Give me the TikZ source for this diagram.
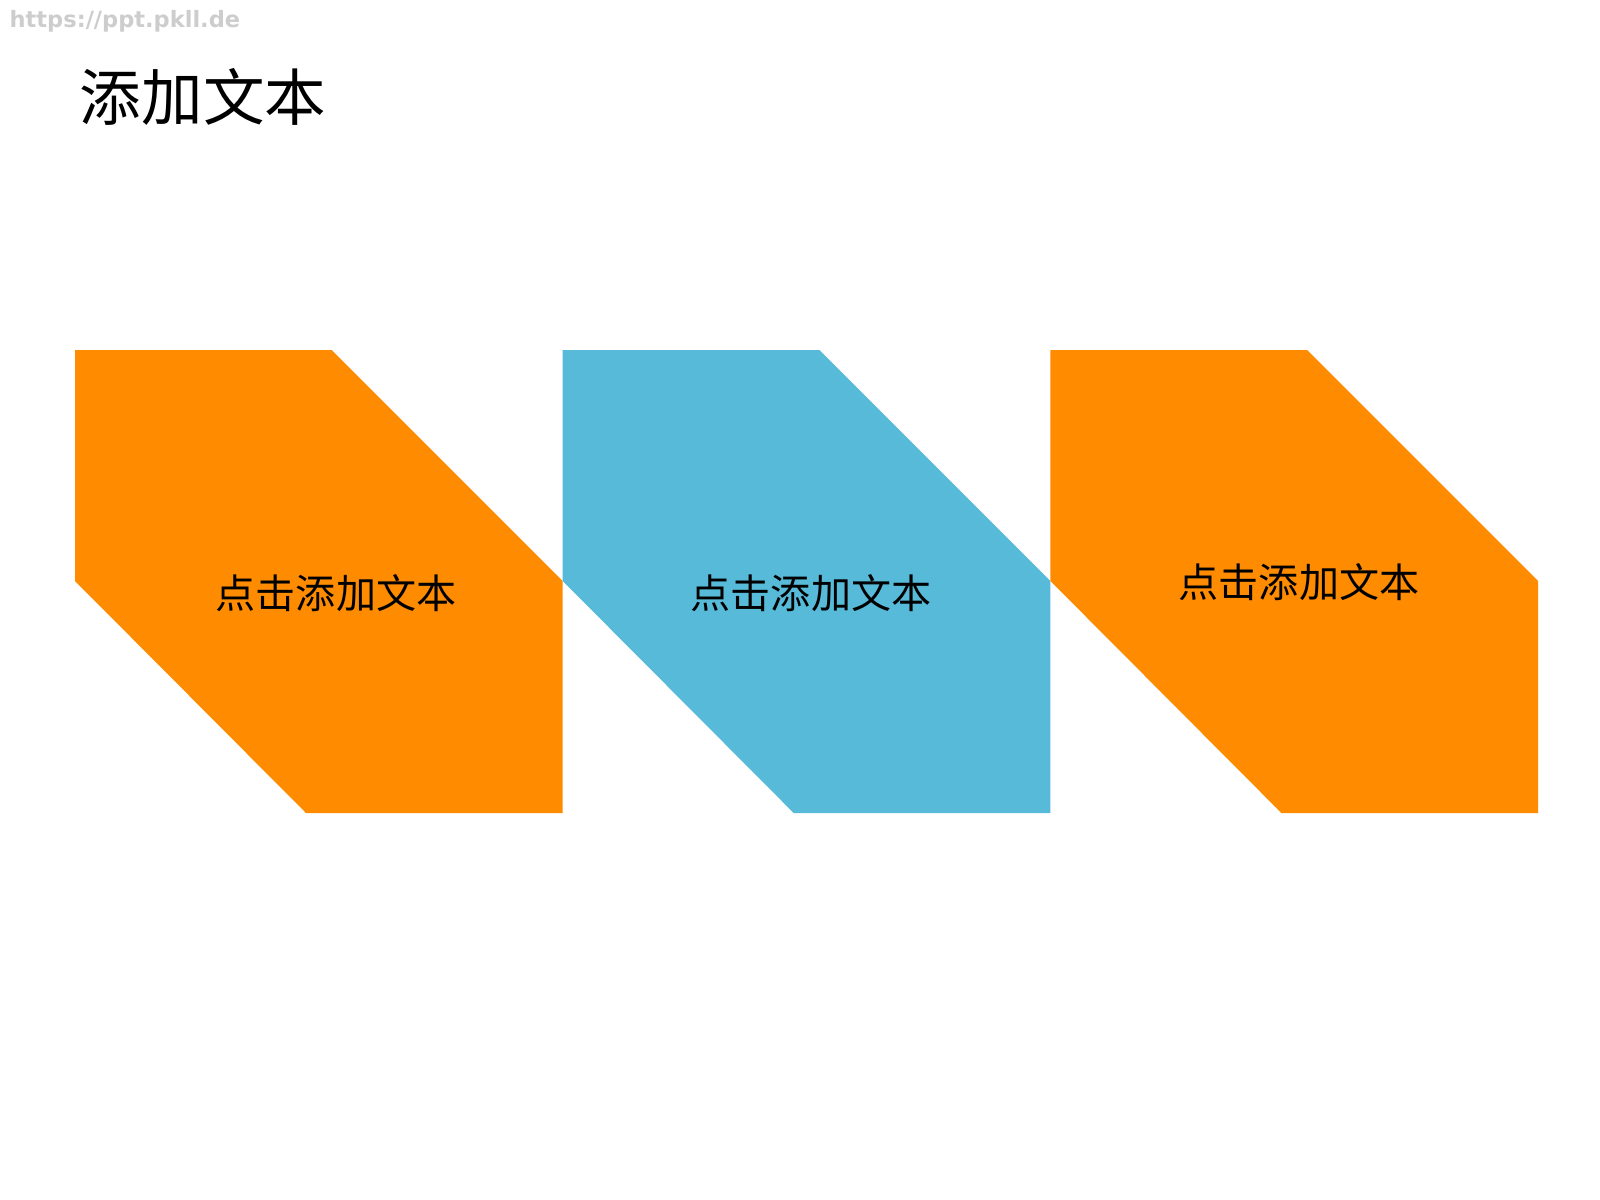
\documentclass[tikz,border=0pt]{standalone}
\usepackage{fontspec}
\setmainfont{Noto Sans CJK SC}
\newfontfamily\markfont{DejaVu Sans}
\definecolor{boxorange}{RGB}{255,140,0}
\definecolor{boxblue}{RGB}{86,186,216}
\definecolor{markgray}{RGB}{205,205,205}
\begin{document}
\begin{tikzpicture}[x=0.01cm, y=-0.01cm]
\useasboundingbox (0,0) rectangle (1600,1200);
\pgfmathsetmacro\w{487.7}
\pgfmathsetmacro\c{231}
\pgfmathsetmacro\top{350}
\pgfmathsetmacro\bot{813}
\node[anchor=west, inner sep=0pt, text=markgray, font=\markfont\bfseries\fontsize{6.4}{8}\selectfont] (mark) at (9,21) {https://ppt.pkll.de};
\node[font=\fontsize{17.5}{20}\selectfont] (title) at (203,97) {添加文本};
\foreach \i/\col/\tx/\ty in {0/boxorange/336/593, 1/boxblue/811/593, 2/boxorange/1299/582} {
  \pgfmathsetmacro\xa{75+\i*\w}
  \fill[\col] (\xa,\top) -- ++(\w-\c,0) -- ++(\c,\c) -- (\xa+\w,\bot)
    -- (\xa+\c,\bot) -- (\xa,\top+\c) -- cycle;
  \node[font=\fontsize{11.4}{14}\selectfont] (lab\i) at (\tx,\ty) {点击添加文本};
}
\end{tikzpicture}
\end{document}
